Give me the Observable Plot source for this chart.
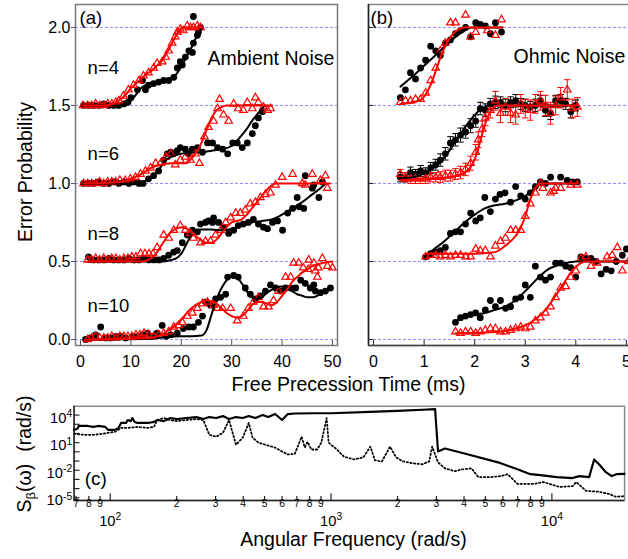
<!DOCTYPE html>
<html><head><meta charset="utf-8">
<script src="https://cdn.jsdelivr.net/npm/d3@7"></script>
<script src="https://cdn.jsdelivr.net/npm/@observablehq/plot@0.6"></script>
<style>
html,body{margin:0;padding:0;overflow:hidden;background:#fff;}
#wrap{position:relative;width:628px;height:559px;overflow:hidden;font-family:"Liberation Sans",Arial,Helvetica,sans-serif;}
#wrap svg{position:absolute;overflow:visible;}
</style></head><body><div id="wrap"></div>
<script>
// ---------- DATA (values as plotted, offsets included) ----------
const gridLevels = [0, 0.5, 1.0, 1.5, 2.0];
const aTicks = [0, 10, 20, 30, 40, 50];
const bTicks = [0, 1, 2, 3, 4, 5];

// Panel (a) Ambient noise
const a4Black = [[0.6,1.5],[1.6,1.5],[2.6,1.5],[3.6,1.5],[4.6,1.51],[5.6,1.5],[6.6,1.5],[7.6,1.5],[8.6,1.51],[9.4,1.52],[10.0,1.55],[11.3,1.6],[12.3,1.66],[12.9,1.6],[13.5,1.63],[14.5,1.64],[15.5,1.65],[16.5,1.66],[17.5,1.66],[18.5,1.68],[19.2,1.74],[19.8,1.78],[20.2,1.76],[20.8,1.81],[21.5,1.85],[22.2,1.84],[22.4,1.9],[23.2,1.95],[23.4,1.97],[22.4,2.07],[23.8,2.0]];
const a4Red = [[0.5,1.5],[1.4,1.5],[2.2,1.5],[3.0,1.51],[3.8,1.5],[4.6,1.5],[5.4,1.51],[6.2,1.51],[7.0,1.52],[7.6,1.53],[8.5,1.56],[9.5,1.6],[10.5,1.63],[11.6,1.66],[12.5,1.69],[13.5,1.71],[14.5,1.74],[15.2,1.77],[16.2,1.78],[16.9,1.81],[17.5,1.85],[18.2,1.9],[18.8,1.94],[19.2,1.97],[19.8,1.99],[20.4,1.98],[21.2,2.01],[21.8,2.0],[22.4,2.0],[23.2,2.01],[23.8,2.0]];
const a4BlackFit = [[0.6,1.5],[8,1.5],[9,1.51],[10,1.53],[11,1.57],[12,1.61],[13,1.63],[14,1.645],[16,1.655],[18,1.67],[19,1.7],[20,1.75],[21,1.81],[22,1.87],[23,1.94],[24,2.0]];
const a4RedFit = [[0.5,1.5],[5,1.5],[7,1.52],[8,1.54],[9,1.57],[10,1.61],[11,1.64],[12,1.67],[13,1.7],[14,1.72],[15,1.75],[16,1.78],[17,1.83],[18,1.89],[19,1.95],[19.8,1.99],[20.5,2.0],[24,2.0]];

const a6Black = [[0.6,1.0],[1.6,1.0],[2.6,1.0],[3.6,1.01],[4.6,1.0],[5.6,1.0],[6.6,1.01],[7.6,1.0],[8.6,1.01],[9.6,1.0],[10.6,1.01],[11.6,1.0],[12.4,1.0],[13.5,1.03],[14.5,1.05],[15.5,1.08],[16.5,1.15],[17.2,1.19],[17.9,1.2],[18.5,1.19],[19.2,1.21],[19.8,1.23],[20.8,1.22],[21.4,1.19],[22.2,1.22],[23.2,1.23],[24.2,1.2],[25.2,1.26],[26.2,1.26],[27.2,1.23],[28.2,1.22],[29.2,1.19],[30.2,1.26],[31.1,1.26],[32.1,1.23],[33.1,1.26],[34.1,1.32],[34.7,1.37],[35.3,1.42],[36.1,1.46]];
const a6Red = [[0.6,1.0],[1.4,1.0],[2.2,1.0],[3.0,1.0],[3.8,1.01],[4.6,1.0],[5.4,1.01],[6.2,1.01],[7.0,1.01],[7.8,1.02],[8.9,1.02],[9.9,1.03],[10.9,1.04],[11.9,1.06],[12.9,1.08],[13.9,1.1],[14.9,1.13],[15.9,1.13],[16.9,1.17],[17.9,1.19],[18.8,1.12],[19.8,1.15],[20.8,1.17],[21.8,1.15],[22.8,1.19],[23.6,1.13],[24.6,1.3],[25.4,1.36],[26.4,1.4],[27.2,1.48],[27.6,1.54],[28.4,1.44],[29.4,1.4],[30.4,1.51],[31.3,1.48],[32.3,1.47],[33.1,1.52],[34.1,1.48],[34.7,1.55],[35.3,1.52],[36.3,1.49],[37.1,1.47],[37.7,1.48]];
const a6BlackFit = [[0.6,1.0],[12,1.0],[13,1.02],[14,1.04],[15,1.07],[16,1.11],[17,1.15],[18,1.17],[20,1.19],[22,1.2],[24,1.2],[26,1.21],[28,1.22],[30,1.24],[31,1.27],[32,1.31],[33,1.35],[34,1.4],[35,1.44],[36,1.48],[36.6,1.5]];
const a6RedFit = [[0.6,1.0],[8,1.01],[10,1.03],[12,1.06],[14,1.1],[16,1.12],[18,1.13],[21,1.13],[22,1.16],[23,1.2],[24,1.26],[25,1.34],[26,1.42],[27,1.47],[28,1.49],[29,1.5],[38,1.5]];

const a8Black = [[1.6,0.53],[2.6,0.51],[3.6,0.51],[4.6,0.51],[5.6,0.52],[6.6,0.51],[7.6,0.51],[8.6,0.51],[9.6,0.52],[10.6,0.51],[11.6,0.51],[12.6,0.52],[13.6,0.51],[14.6,0.51],[15.6,0.51],[16.5,0.52],[17.5,0.54],[18.5,0.56],[19.2,0.57],[20.2,0.62],[21.2,0.67],[22.2,0.7],[23.2,0.69],[23.8,0.74],[24.8,0.75],[25.4,0.76],[26.2,0.75],[26.4,0.78],[27.4,0.75],[28.4,0.72],[29.4,0.68],[30.4,0.7],[31.3,0.73],[32.3,0.74],[33.3,0.75],[34.3,0.77],[35.3,0.74],[36.3,0.72],[37.1,0.71],[38.1,0.75],[39.1,0.76],[40.1,0.7],[41.1,0.81],[42.1,0.84],[43.0,0.91],[43.4,0.85],[44.3,0.84],[44.6,1.05],[46.0,0.97],[46.3,0.99],[47.3,0.91],[48.0,1.01]];
const a8Red = [[1.4,0.51],[2.2,0.51],[3.0,0.52],[3.8,0.51],[4.6,0.52],[5.4,0.51],[6.2,0.52],[7.0,0.52],[7.8,0.51],[8.6,0.52],[9.4,0.52],[10.2,0.53],[11.0,0.53],[11.9,0.55],[12.8,0.55],[13.6,0.55],[14.4,0.55],[15.2,0.59],[16.5,0.67],[17.5,0.65],[18.5,0.7],[19.8,0.73],[20.8,0.7],[21.8,0.68],[22.4,0.65],[23.8,0.62],[24.8,0.63],[25.8,0.63],[26.8,0.67],[27.8,0.7],[28.8,0.75],[29.8,0.78],[30.8,0.81],[31.7,0.81],[32.7,0.83],[33.7,0.87],[34.7,0.88],[35.7,0.91],[36.7,0.93],[37.7,0.94],[38.7,0.99],[40.0,1.04],[42.1,1.06],[44.0,1.0],[44.6,0.99],[46.0,1.06],[47.6,1.02],[48.6,1.05],[49.0,0.97]];
const a8BlackFit = [[1.6,0.5],[16,0.5],[18,0.51],[19,0.52],[20,0.55],[21,0.61],[22,0.67],[23,0.7],[24,0.705],[26,0.705],[28,0.7],[30,0.71],[32,0.73],[34,0.75],[36,0.76],[38,0.77],[40,0.8],[42,0.84],[44,0.88],[46,0.93],[48,0.98],[48.6,1.0]];
const a8RedFit = [[1.4,0.5],[12,0.5],[14,0.52],[15,0.55],[16,0.6],[17,0.65],[18,0.69],[19,0.71],[20,0.72],[21,0.71],[22,0.69],[23,0.66],[24,0.635],[25,0.62],[26,0.62],[27,0.64],[28,0.68],[29,0.72],[30,0.75],[31,0.76],[32,0.77],[33,0.8],[34,0.84],[35,0.88],[36,0.92],[37,0.96],[38,0.99],[39,1.0],[49.5,1.0]];

const a10Black = [[1.0,0.0],[2.0,0.01],[3.0,0.03],[4.0,0.08],[5.0,0.01],[6.0,0.01],[7.0,0.02],[8.0,0.02],[9.0,0.01],[10.5,0.02],[11.5,0.02],[12.4,0.03],[13.3,0.04],[14.3,0.02],[15.2,0.04],[16.2,0.09],[17.0,0.02],[17.9,0.03],[19.2,0.04],[20.4,0.07],[21.5,0.08],[22.4,0.08],[23.4,0.11],[24.2,0.15],[24.8,0.24],[25.8,0.22],[26.8,0.26],[27.8,0.27],[28.8,0.29],[29.2,0.4],[30.4,0.41],[31.3,0.4],[32.7,0.33],[33.7,0.29],[34.7,0.26],[35.7,0.28],[36.7,0.31],[37.7,0.35],[38.7,0.33],[39.7,0.31],[40.7,0.33],[41.7,0.33],[42.7,0.33],[43.7,0.38],[44.6,0.36],[45.6,0.33],[46.3,0.35],[46.6,0.31],[47.6,0.3],[48.6,0.31],[49.6,0.33]];
const a10Red = [[1.4,0.0],[2.2,0.01],[3.0,0.02],[3.8,0.01],[4.6,0.01],[5.4,0.01],[6.2,0.02],[7.0,0.01],[7.8,0.02],[8.6,0.02],[9.4,0.02],[10.2,0.02],[11.0,0.03],[11.8,0.03],[12.6,0.04],[13.5,0.03],[14.5,0.02],[15.5,0.03],[16.5,0.04],[17.5,0.05],[18.5,0.08],[19.5,0.09],[20.2,0.11],[21.2,0.15],[22.2,0.17],[23.2,0.2],[24.2,0.23],[25.2,0.24],[26.4,0.22],[27.2,0.2],[28.2,0.2],[29.8,0.2],[31.1,0.12],[32.3,0.15],[33.3,0.2],[34.3,0.24],[35.3,0.27],[36.3,0.21],[37.3,0.21],[38.3,0.25],[39.3,0.31],[40.7,0.4],[41.7,0.4],[42.3,0.49],[43.3,0.49],[44.2,0.46],[45.2,0.45],[45.3,0.51],[46.3,0.49],[46.6,0.44],[47.0,0.4],[47.2,0.46],[48.0,0.52],[49.0,0.47],[50.0,0.46]];
const a10BlackFit = [[1,0],[14,0.005],[17,0.015],[20,0.02],[22,0.02],[24,0.025],[25,0.06],[26,0.16],[27,0.26],[28,0.33],[29,0.38],[30,0.41],[31,0.4],[32,0.36],[33,0.31],[34,0.27],[35,0.26],[36,0.27],[37,0.3],[38,0.32],[39,0.335],[40,0.34],[41,0.33],[42,0.31],[43,0.29],[44,0.28],[45,0.27],[46,0.27],[47,0.28],[48,0.3],[49,0.32],[50,0.33]];
const a10RedFit = [[1,0],[14,0.01],[16,0.03],[18,0.07],[20,0.13],[22,0.2],[24,0.24],[25,0.25],[26,0.245],[27,0.23],[28,0.2],[29,0.17],[30,0.15],[31,0.14],[32,0.15],[33,0.18],[34,0.22],[35,0.24],[36,0.24],[37,0.23],[38,0.22],[39,0.24],[40,0.28],[41,0.32],[42,0.37],[43,0.4],[44,0.43],[45,0.45],[46,0.47],[47,0.48],[48,0.49],[50,0.5]];

// Panel (b) Ohmic noise
const b4Black = [[0.53,1.55],[0.63,1.6],[0.73,1.71],[0.83,1.67],[0.93,1.74],[1.03,1.79],[1.13,1.88],[1.23,1.85],[1.32,1.82],[1.42,1.9],[1.52,1.92],[1.62,1.96],[1.72,1.98],[1.82,2.0],[1.92,1.94],[2.02,2.03],[2.11,2.02],[2.21,2.01],[2.31,1.96],[2.41,2.03],[2.53,1.97]];
const b4Red = [[0.53,1.52],[0.63,1.53],[0.73,1.53],[0.83,1.54],[0.93,1.54],[1.03,1.58],[1.13,1.66],[1.23,1.74],[1.32,1.85],[1.42,1.9],[1.52,2.03],[1.62,2.03],[1.82,2.08],[1.92,1.94],[2.02,1.97],[2.25,1.98],[2.41,1.95],[2.53,2.05]];
const b4BlackFit = [[0.53,1.62],[0.75,1.68],[0.95,1.74],[1.15,1.8],[1.35,1.86],[1.55,1.92],[1.75,1.97],[1.95,2.0],[2.55,2.0]];
const b4RedFit = [[0.53,1.51],[0.8,1.52],[0.95,1.54],[1.05,1.58],[1.15,1.65],[1.25,1.74],[1.35,1.83],[1.45,1.9],[1.55,1.95],[1.65,1.98],[1.8,2.0],[2.55,2.0]];

// n=6: [time, value, error]
const b6Black = [[0.53,1.04,0.03],[0.63,1.04,0.03],[0.73,1.07,0.035],[0.83,1.06,0.03],[0.93,1.08,0.035],[1.03,1.07,0.03],[1.13,1.1,0.035],[1.23,1.12,0.035],[1.32,1.15,0.04],[1.42,1.19,0.04],[1.52,1.26,0.04],[1.62,1.28,0.04],[1.72,1.31,0.045],[1.82,1.33,0.04],[1.92,1.37,0.045],[2.02,1.4,0.04],[2.11,1.48,0.04],[2.21,1.47,0.04],[2.31,1.51,0.035],[2.41,1.52,0.04],[2.51,1.52,0.035],[2.61,1.5,0.04],[2.71,1.52,0.035],[2.81,1.53,0.04],[2.91,1.51,0.035],[3.0,1.5,0.04],[3.1,1.49,0.035],[3.2,1.5,0.04],[3.3,1.53,0.035],[3.4,1.47,0.04],[3.5,1.45,0.04],[3.6,1.53,0.035],[3.7,1.53,0.04],[3.8,1.51,0.035],[3.9,1.46,0.04],[4.0,1.5,0.035]];
const b6Red = [[0.53,1.06,0.03],[0.63,1.04,0.03],[0.73,1.03,0.03],[0.83,1.03,0.03],[0.93,1.03,0.03],[1.03,1.03,0.03],[1.13,1.04,0.03],[1.23,1.04,0.03],[1.32,1.04,0.035],[1.42,1.05,0.035],[1.52,1.05,0.035],[1.62,1.06,0.035],[1.72,1.07,0.04],[1.82,1.09,0.04],[1.92,1.13,0.045],[2.02,1.2,0.05],[2.07,1.28,0.05],[2.15,1.35,0.05],[2.21,1.42,0.05],[2.31,1.47,0.05],[2.41,1.53,0.06],[2.51,1.45,0.06],[2.61,1.49,0.055],[2.71,1.45,0.06],[2.81,1.44,0.06],[2.91,1.51,0.06],[3.0,1.48,0.06],[3.1,1.47,0.065],[3.2,1.51,0.06],[3.3,1.53,0.06],[3.4,1.5,0.065],[3.5,1.45,0.07],[3.6,1.5,0.06],[3.7,1.55,0.065],[3.83,1.6,0.065],[3.93,1.48,0.06],[4.03,1.49,0.06]];
const b6BlackFit = [[0.53,1.03],[0.9,1.05],[1.1,1.08],[1.3,1.13],[1.5,1.21],[1.7,1.31],[1.9,1.4],[2.1,1.47],[2.3,1.5],[4.0,1.5]];
const b6RedFit = [[0.53,1.02],[1.0,1.03],[1.5,1.04],[1.8,1.07],[1.95,1.12],[2.05,1.2],[2.15,1.32],[2.25,1.42],[2.35,1.48],[2.45,1.5],[4.03,1.5]];

const b8Black = [[1.03,0.53],[1.13,0.55],[1.23,0.56],[1.32,0.57],[1.42,0.59],[1.52,0.68],[1.62,0.69],[1.72,0.69],[1.82,0.74],[1.92,0.81],[2.02,0.76],[2.11,0.78],[2.2,0.91],[2.31,0.82],[2.41,0.9],[2.5,0.93],[2.6,0.94],[2.71,0.88],[2.81,0.98],[2.91,0.92],[3.0,0.9],[3.1,0.94],[3.2,0.98],[3.3,1.01],[3.4,1.0],[3.5,1.04],[3.7,1.04],[3.83,1.02],[3.93,1.01],[4.03,1.01]];
const b8Red = [[1.03,0.53],[1.13,0.54],[1.23,0.54],[1.32,0.53],[1.42,0.54],[1.52,0.53],[1.62,0.54],[1.72,0.54],[1.82,0.53],[1.92,0.53],[2.02,0.58],[2.11,0.57],[2.21,0.57],[2.31,0.53],[2.41,0.6],[2.51,0.63],[2.61,0.65],[2.71,0.7],[2.81,0.7],[2.91,0.7],[3.0,0.79],[3.1,0.87],[3.2,0.94],[3.3,1.0],[3.35,0.97],[3.5,0.94],[3.56,0.95],[3.6,0.97],[3.7,0.97],[3.9,0.99],[4.03,0.99]];
const b8BlackFit = [[1.03,0.54],[1.2,0.58],[1.4,0.63],[1.6,0.69],[1.8,0.75],[2.0,0.8],[2.2,0.84],[2.4,0.86],[2.6,0.87],[2.8,0.89],[3.0,0.92],[3.15,0.96],[3.3,1.0],[4.03,1.0]];
const b8RedFit = [[1.03,0.55],[2.0,0.55],[2.4,0.56],[2.6,0.6],[2.8,0.66],[2.9,0.71],[3.0,0.79],[3.1,0.9],[3.2,0.97],[3.3,1.0],[4.03,1.0]];

const b10Black = [[1.62,0.11],[1.72,0.14],[1.82,0.15],[1.92,0.16],[2.02,0.17],[2.11,0.14],[2.21,0.19],[2.31,0.25],[2.41,0.21],[2.51,0.25],[2.61,0.2],[2.71,0.21],[2.81,0.26],[2.91,0.27],[3.0,0.35],[3.1,0.27],[3.2,0.47],[3.3,0.4],[3.4,0.38],[3.5,0.4],[3.6,0.49],[3.7,0.49],[3.8,0.47],[3.9,0.46],[4.0,0.4],[4.1,0.53],[4.2,0.52],[4.3,0.52],[4.4,0.5],[4.5,0.42],[4.6,0.45],[4.7,0.44],[4.8,0.5],[4.92,0.54],[5.0,0.58]];
const b10Red = [[1.62,0.05],[1.72,0.04],[1.82,0.05],[1.92,0.05],[2.02,0.04],[2.11,0.05],[2.21,0.06],[2.31,0.07],[2.41,0.07],[2.51,0.05],[2.61,0.05],[2.71,0.06],[2.81,0.07],[2.91,0.08],[3.0,0.07],[3.1,0.08],[3.2,0.12],[3.3,0.14],[3.4,0.17],[3.5,0.21],[3.6,0.27],[3.7,0.33],[3.8,0.34],[3.9,0.4],[4.0,0.44],[4.1,0.52],[4.2,0.53],[4.3,0.47],[4.42,0.49],[4.62,0.53],[4.72,0.54],[4.82,0.59],[4.92,0.44],[5.04,0.5]];
const b10BlackFit = [[1.62,0.12],[1.8,0.14],[2.0,0.16],[2.2,0.17],[2.4,0.19],[2.6,0.21],[2.8,0.25],[3.0,0.31],[3.15,0.36],[3.3,0.41],[3.45,0.45],[3.6,0.47],[3.8,0.49],[4.0,0.5],[5.2,0.5]];
const b10RedFit = [[1.62,0.04],[2.5,0.05],[2.8,0.07],[3.0,0.09],[3.2,0.13],[3.4,0.19],[3.6,0.28],[3.8,0.38],[3.95,0.45],[4.1,0.49],[4.2,0.5],[5.2,0.5]];

// Panel (c) spectra: [omega (rad/s), S (rad/s)]
const specSolid = [[68.6,245],[71,320],[72,660],[79,660],[84,520],[88,660],[95,520],[98,245],[105,245],[109,400],[112,1400],[118,1400],[120,2900],[124,2200],[126,4800],[129,1800],[133,1400],[148,1400],[158,1800],[163,2900],[175,2200],[187,4800],[200,3700],[222,4800],[246,6100],[264,3700],[281,6100],[302,4800],[324,7800],[345,3700],[371,6100],[398,4800],[424,7800],[455,4800],[489,10000],[520,6100],[558,13000],[600,2900],[637,13000],[685,15000],[840,16000],[1000,16000],[1500,22000],[2000,29000],[2600,38000],[2958,44000],[3050,1.1],[3278,2.3],[4020,0.66],[5700,0.072],[6985,0.013],[7985,0.0037],[8850,0.0029],[10520,0.0018],[12400,0.0014],[13300,0.0023],[14750,0.0018],[15530,0.15],[16340,0.044],[17550,0.0061],[18650,0.0023],[19630,0.0037],[21300,0.004]];
const specDotted = [[68.6,92],[76,72],[84,72],[93,92],[98,118],[105,150],[112,400],[120,400],[133,520],[148,400],[158,520],[163,2900],[175,4800],[187,2900],[200,2200],[222,2900],[246,3700],[264,2900],[281,72],[302,44],[324,118],[345,2900],[371,6],[398,35],[424,1400],[441,35],[469,10],[504,6],[558,2.9],[600,1.1],[637,0.52],[685,0.6],[736,44],[760,3],[782,12],[815,1.8],[865,1.8],[903,10],[955,4800],[975,10],[1000,6],[1064,1.8],[1143,0.3],[1265,0.15],[1400,0.25],[1506,3.7],[1580,0.12],[1700,0.092],[1849,3.7],[1970,0.25],[2110,0.092],[2338,0.057],[2590,0.044],[2783,0.092],[2870,3.7],[3050,0.072],[3278,0.016],[3633,0.0078],[3900,0.012],[4322,0.016],[4645,0.0018],[5300,0.0018],[5870,0.0023],[6310,0.0037],[6985,3.2e-4],[8240,3.2e-4],[9150,5.1e-4],[10860,1.5e-4],[12400,1.9e-4],[12900,5.1e-4],[14300,5.6e-5],[16340,4.5e-5],[18100,2.7e-5],[19450,1.3e-5],[21300,1.5e-5]];
const cDecadesX = [100, 1000, 10000];
const cMinorX = [70,80,90,200,300,400,500,600,700,800,900,2000,3000,4000,5000,6000,7000,8000,9000];
const cMinorLabels = ["7","8","9","2","3","4","5","6","7","8","9","2","3","4","5","6","7","8","9"];
const cDecadesY = [1e-5,1e-4,1e-3,1e-2,1e-1,1,10,100,1e3,1e4];
const cLabelY = [1e-5, 1e-2, 10, 1e4];

// annotations
const aNotes = [{s:"n=4",t:1.4,y:1.737},{s:"n=6",t:1.4,y:1.186},{s:"n=8",t:1.4,y:0.676},{s:"n=10",t:1.4,y:0.212}];

// ---------- RENDER ----------
const FONT = '"Liberation Sans", Arial, Helvetica, sans-serif';
const wrap = document.getElementById("wrap");
function place(node, left, top){ node.style.left = left + "px"; node.style.top = top + "px"; wrap.appendChild(node); }
const X = d => d[0], Y = d => d[1];
const RED = "#ff0000";
const dashBlue = "#8c8cff";

function seriesMarks(blacks, reds, bFits, rFits) {
  return [
    ...blacks.map(s => Plot.dot(s, {x: X, y: Y, r: 3.4, fill: "#000", stroke: "none"})),
    ...reds.map(s => Plot.dot(s, {x: X, y: Y, r: 2.8, symbol: "triangle", fill: "none", stroke: RED, strokeWidth: 1.2})),
    ...bFits.map(s => Plot.line(s, {x: X, y: Y, stroke: "#000", strokeWidth: 2, curve: "monotone-x"})),
    ...rFits.map(s => Plot.line(s, {x: X, y: Y, stroke: RED, strokeWidth: 2, curve: "monotone-x"}))
  ];
}
function capMarks(data, color) {
  const cap = {draw(ctx, size) { const w = Math.sqrt(size / Math.PI) * 1.6; ctx.moveTo(-w, 0); ctx.lineTo(w, 0); }};
  return [
    Plot.dot(data, {x: X, y: d => d[1] + d[2], symbol: cap, r: 2, stroke: color, fill: "none", strokeWidth: 1}),
    Plot.dot(data, {x: X, y: d => d[1] - d[2], symbol: cap, r: 2, stroke: color, fill: "none", strokeWidth: 1})
  ];
}

// Panel (a)
const AH = 372, AW = 345, AmT = 4, AmB = 27, AmL = 75, AmR = 8;
const plotA = Plot.plot({
  width: AW, height: AH, marginTop: AmT, marginBottom: AmB, marginLeft: AmL, marginRight: AmR,
  x: {domain: [-1, 51], label: null},
  y: {domain: [-0.0385, 2.147], label: null},
  style: {fontFamily: FONT, fontSize: "16px", color: "#000", background: "transparent", overflow: "visible"},
  marks: [
    Plot.ruleY(gridLevels, {stroke: dashBlue, strokeDasharray: "3,2", strokeWidth: 1}),
    Plot.frame({stroke: "#777", strokeWidth: 1.5}),
    Plot.axisY(gridLevels, {tickSize: 4, tickPadding: 1, tickFormat: d3.format(".1f"), stroke: "#555", fontSize: 16, label: null}),
    Plot.axisX(aTicks, {tickSize: 0, tickPadding: 10, fontSize: 16, label: null}),
    Plot.tickX(aTicks, {x: d => d, insetTop: AH - AmT - AmB - 5, stroke: "#555"}),
    ...seriesMarks([a4Black, a6Black, a8Black, a10Black], [a4Red, a6Red, a8Red, a10Red],
                   [a4BlackFit, a6BlackFit, a8BlackFit, a10BlackFit], [a4RedFit, a6RedFit, a8RedFit, a10RedFit]),
    Plot.text(["(a)"], {x: -0.2, y: 2.06, text: d => d, textAnchor: "start", fontSize: 18.5}),
    Plot.text(["Ambient Noise"], {x: 25.2, y: 1.8, text: d => d, textAnchor: "start", fontSize: 19.5}),
    Plot.text(aNotes, {x: "t", y: "y", text: "s", textAnchor: "start", fontSize: 18.5})
  ]
});
place(plotA, 0, 0);

// Panel (b)
const BH = 372, BW = 300, BmT = 4, BmB = 27, BmL = 28, BmR = 4;
const plotB = Plot.plot({
  width: BW, height: BH, marginTop: BmT, marginBottom: BmB, marginLeft: BmL, marginRight: BmR,
  x: {domain: [-0.1, 5.2], label: null},
  y: {domain: [-0.0385, 2.147], label: null, axis: null},
  style: {fontFamily: FONT, fontSize: "16px", color: "#000", background: "transparent", overflow: "visible"},
  marks: [
    Plot.ruleY(gridLevels, {stroke: dashBlue, strokeDasharray: "3,2", strokeWidth: 1}),
    Plot.frame({stroke: "#888", strokeWidth: 1.5}),
    Plot.ruleX([-0.1], {stroke: "#222", strokeWidth: 1.5}),
    Plot.ruleY([-0.0385], {stroke: "#444", strokeWidth: 1.5}),
    Plot.tickY(gridLevels, {y: d => d, insetRight: BW - BmL - BmR - 5, stroke: "#222"}),
    Plot.axisX(bTicks, {tickSize: 0, tickPadding: 10, fontSize: 16, label: null}),
    Plot.tickX(bTicks, {x: d => d, insetTop: BH - BmT - BmB - 5, stroke: "#222"}),
    Plot.ruleX(b6Black, {x: X, y1: d => d[1] - d[2], y2: d => d[1] + d[2], stroke: "#000", strokeWidth: 1}),
    Plot.ruleX(b6Red, {x: X, y1: d => d[1] - d[2], y2: d => d[1] + d[2], stroke: RED, strokeWidth: 1}),
    ...capMarks(b6Black, "#000"), ...capMarks(b6Red, RED),
    ...seriesMarks([b4Black, b6Black, b8Black, b10Black], [b4Red, b6Red, b8Red, b10Red],
                   [b4BlackFit, b6BlackFit, b8BlackFit, b10BlackFit], [b4RedFit, b6RedFit, b8RedFit, b10RedFit]),
    Plot.text(["(b)"], {x: -0.06, y: 2.06, text: d => d, textAnchor: "start", fontSize: 18.5}),
    Plot.text(["Ohmic Noise"], {x: 2.77, y: 1.81, text: d => d, textAnchor: "start", fontSize: 19.5})
  ]
});
place(plotB, 340, 0);

// Panel (c)
const CH = 165, CW = 640, CmT = 11, CmB = 58, CmL = 75, CmR = 4;
const cx = [68.6, 21330], cy = [5.1e-6, 9.1e4];
const supFmt = d => "10^" + Math.round(Math.log10(d));
const plotC = Plot.plot({
  width: CW, height: CH, marginTop: CmT, marginBottom: CmB, marginLeft: CmL, marginRight: CmR,
  x: {type: "log", domain: cx, label: null},
  y: {type: "log", domain: cy, label: null},
  style: {fontFamily: FONT, fontSize: "15px", color: "#000", background: "transparent", overflow: "visible"},
  marks: [
    Plot.frame({stroke: "#888", strokeWidth: 1.5}),
    Plot.ruleX([cx[0]], {stroke: "#222", strokeWidth: 1.5}),
    Plot.ruleY([cy[0]], {stroke: "#222", strokeWidth: 1.5}),
    Plot.tickY(cDecadesY, {y: d => d, insetRight: CW - CmL - CmR - 6, stroke: "#222", strokeWidth: 1.2}),
    Plot.tickX(cMinorX, {x: d => d, insetTop: CH - CmT - CmB - 4, stroke: "#222", strokeWidth: 1.2}),
    Plot.tickX(cDecadesX, {x: d => d, insetTop: CH - CmT - CmB - 7, stroke: "#222", strokeWidth: 1.2}),
    Plot.text(cMinorX, {x: d => d, text: (d, i) => cMinorLabels[i], frameAnchor: "bottom", dy: 7, fontSize: 10.5}),
    Plot.axisX(cDecadesX, {tickSize: 0, tickPadding: 15, fontSize: 15, tickFormat: supFmt, label: null}),
    Plot.axisY(cLabelY, {tickSize: 0, tickPadding: 2, dy: 3, fontSize: 15, tickFormat: supFmt, label: null}),
    Plot.line(specDotted, {x: X, y: Y, stroke: "#000", strokeWidth: 1.8, strokeDasharray: "1.4,2.4"}),
    Plot.line(specSolid, {x: X, y: Y, stroke: "#000", strokeWidth: 2.2}),
    Plot.text(["(c)"], {x: 76.6, y: 1.15e-3, text: d => d, textAnchor: "start", fontSize: 19.5})
  ]
});
// superscripts for 10^n labels
d3.select(plotC).selectAll("text").each(function() {
  const t = this.textContent;
  if (/^10\^/.test(t)) {
    const ex = t.split("^")[1];
    const s = d3.select(this);
    s.text("10");
    s.append("tspan").attr("dy", "-0.55em").attr("font-size", "0.7em").text(ex);
  }
});
place(plotC, 0, 395);

// Axis titles overlay
const ov = d3.select(wrap).append("svg").attr("width", 628).attr("height", 559)
  .style("left", "0px").style("top", "0px").style("pointer-events", "none")
  .attr("font-family", FONT).attr("font-size", 19.5).attr("fill", "#000");
ov.append("text").attr("x", 348.5).attr("y", 391).attr("text-anchor", "middle").text("Free Precession Time (ms)");
ov.append("text").attr("x", 353.5).attr("y", 546).attr("text-anchor", "middle").text("Angular Frequency (rad/s)");
ov.append("text").attr("transform", "translate(32,172) rotate(-90)").attr("text-anchor", "middle").text("Error Probability");
const sl = ov.append("text").attr("transform", "translate(31,454) rotate(-90)").attr("text-anchor", "middle");
sl.append("tspan").text("S");
sl.append("tspan").attr("font-size", 13).attr("dy", 4).text("β");
sl.append("tspan").attr("dy", -4).text("(ω)");
sl.append("tspan").attr("dx", 12).text("(rad/s)");
</script></body></html>
